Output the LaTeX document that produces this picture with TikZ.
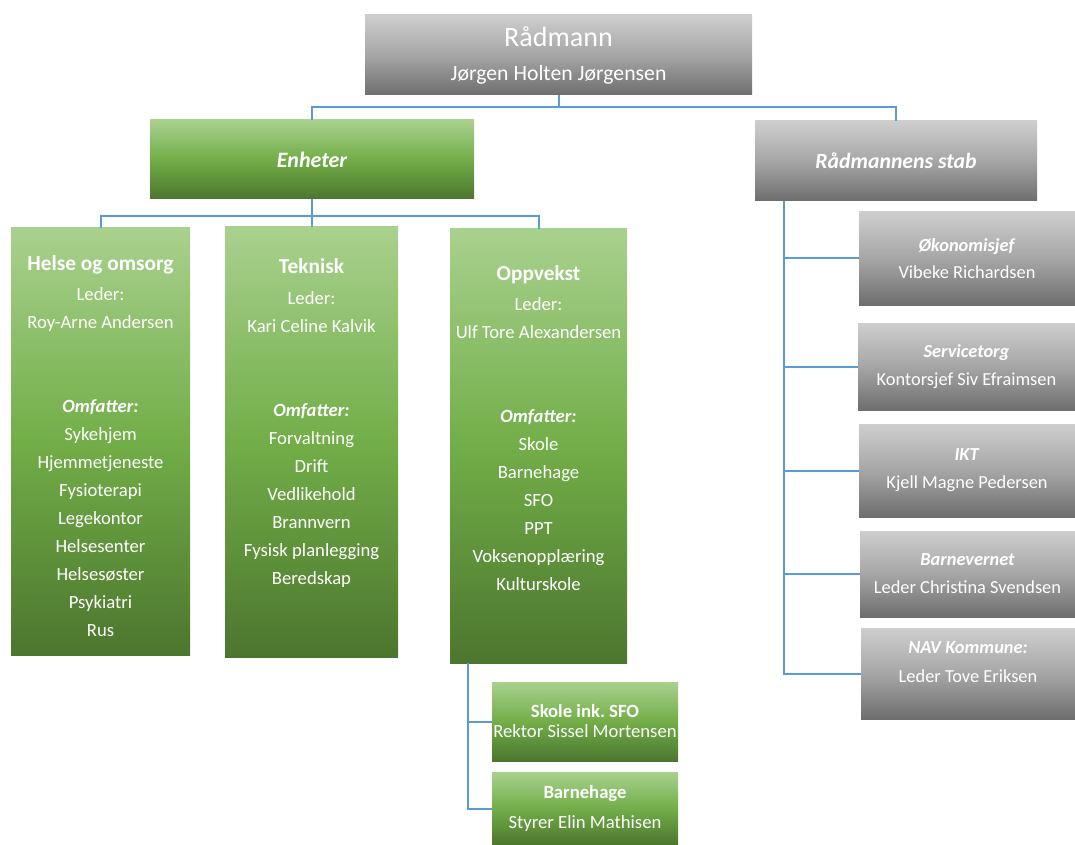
\documentclass[tikz,border=0pt]{standalone}
\usepackage{fontspec}
\setmainfont{Carlito}
\usetikzlibrary{positioning}
\frenchspacing

\definecolor{grtop}{RGB}{169,209,142}
\definecolor{grmid}{RGB}{114,174,72}
\definecolor{grbot}{RGB}{76,118,46}
\definecolor{gytop}{RGB}{206,206,206}
\definecolor{gymid}{RGB}{166,166,166}
\definecolor{gybot}{RGB}{110,110,110}
\definecolor{linkblue}{RGB}{91,155,213}
\pgfdeclareverticalshading{greenfill}{100bp}{color(0bp)=(grbot); color(25bp)=(grbot); color(50bp)=(grmid); color(75bp)=(grtop); color(100bp)=(grtop)}
\pgfdeclareverticalshading{grayfill}{100bp}{color(0bp)=(gybot); color(25bp)=(gybot); color(50bp)=(gymid); color(75bp)=(gytop); color(100bp)=(gytop)}

\begin{document}
\begin{tikzpicture}[x=0.75pt,y=-0.75pt,
	greenbox/.style={rectangle,shading=greenfill,inner sep=0pt},
	graybox/.style={rectangle,shading=grayfill,inner sep=0pt},
	sz/.style 2 args={minimum width=#1*0.75pt,minimum height=#2*0.75pt},
	lbl/.style={text=white,align=center,font=\fontsize{14}{21}\selectfont},
	link/.style={draw=linkblue,line width=1.5pt}]
				\useasboundingbox (0,0) rectangle (1075,845);

				\node[graybox,sz={387}{80},lbl,font=\fontsize{16.3}{25.5}\selectfont] (radmann) at (558.5,55) {{\fontsize{21}{25.5}\selectfont Rådmann}\\Jørgen Holten Jørgensen};
				\node[greenbox,sz={324}{79},lbl,font=\bfseries\itshape\fontsize{16.5}{18}\selectfont] (enheter) at (312,159.5) {Enheter};
				\node[graybox,sz={282}{80},lbl,font=\bfseries\itshape\fontsize{16.3}{18}\selectfont] (stab) at (896,161) {Rådmannens stab};

				\node[greenbox,sz={179}{427}] (helse) at (100.5,441.5) {};
				\node[greenbox,sz={173}{430}] (teknisk) at (311.5,442) {};
				\node[greenbox,sz={177}{434}] (oppvekst) at (538.5,446) {};

				\node[lbl] (helsetxt) at (100.5,446) {{\bfseries\fontsize{16}{21}\selectfont Helse og omsorg}\\[2pt]
					Leder:\\Roy-Arne Andersen\\[42pt]
					\textbf{\textit{Omfatter:}}\\Sykehjem\\Hjemmetjeneste\\Fysioterapi\\Legekontor\\Helsesenter\\Helsesøster\\Psykiatri\\Rus};
				\node[lbl] (teknisktxt) at (311.5,423) {{\bfseries\fontsize{16}{21}\selectfont Teknisk}\\[2pt]
					Leder:\\Kari Celine Kalvik\\[42pt]
					\textbf{\textit{Omfatter:}}\\Forvaltning\\Drift\\Vedlikehold\\Brannvern\\Fysisk planlegging\\Beredskap};
				\node[lbl] (oppveksttxt) at (538.5,428) {{\bfseries\fontsize{16}{21}\selectfont Oppvekst}\\[2pt]
					Leder:\\Ulf Tore Alexandersen\\[42pt]
					\textbf{\textit{Omfatter:}}\\Skole\\Barnehage\\SFO\\PPT\\Voksenopplæring\\Kulturskole};

				\node[greenbox,sz={186}{79},lbl,font=\fontsize{14}{15}\selectfont] (skole) at (585,721.5) {\textbf{Skole ink. SFO}\\Rektor Sissel Mortensen};
				\node[greenbox,sz={186}{73},lbl,font=\fontsize{14}{22.5}\selectfont] (bhage) at (585,808.5) {\textbf{Barnehage}\\Styrer Elin Mathisen};

				\node[graybox,sz={216}{93},lbl,font=\fontsize{13.8}{20.5}\selectfont] (okon) at (967,258.5) {\textbf{\textit{Økonomisjef}}\\Vibeke Richardsen};
				\node[graybox,sz={217}{87},lbl,font=\fontsize{13.8}{21.5}\selectfont] (service) at (966.5,366.5) {\textbf{\textit{Servicetorg}}\\Kontorsjef Siv Efraimsen};
				\node[graybox,sz={216}{93},lbl,font=\fontsize{13.8}{21}\selectfont] (ikt) at (967,470.5) {\textbf{\textit{IKT}}\\Kjell Magne Pedersen};
				\node[graybox,sz={215}{86},lbl,font=\fontsize{13.8}{21}\selectfont] (barnev) at (967.5,574) {\textbf{\textit{Barnevernet}}\\Leder Christina Svendsen};
				\node[graybox,sz={214}{91}] (nav) at (968,673.5) {};
				\node[lbl,font=\fontsize{13.8}{21.5}\selectfont] (navtxt) at (968,662) {\textbf{\textit{NAV Kommune:}}\\Leder Tove Eriksen};

				\draw[link] (radmann.south) -- ++(0,12) -| (enheter.north);
				\draw[link] (radmann.south) -- ++(0,12) -| (stab.north);
				\foreach \b in {helse,teknisk,oppvekst}
				\draw[link] (enheter.south) -- ++(0,17) -| (\b.north);
				\foreach \b in {skole,bhage}
				\draw[link] ([xshift=13.5pt]oppvekst.south west) |- (\b.west);
				\foreach \b in {okon,service,ikt,barnev,nav}
				\draw[link] ([xshift=21.75pt]stab.south west) |- (\b.west);
				\end{tikzpicture}
\end{document}
